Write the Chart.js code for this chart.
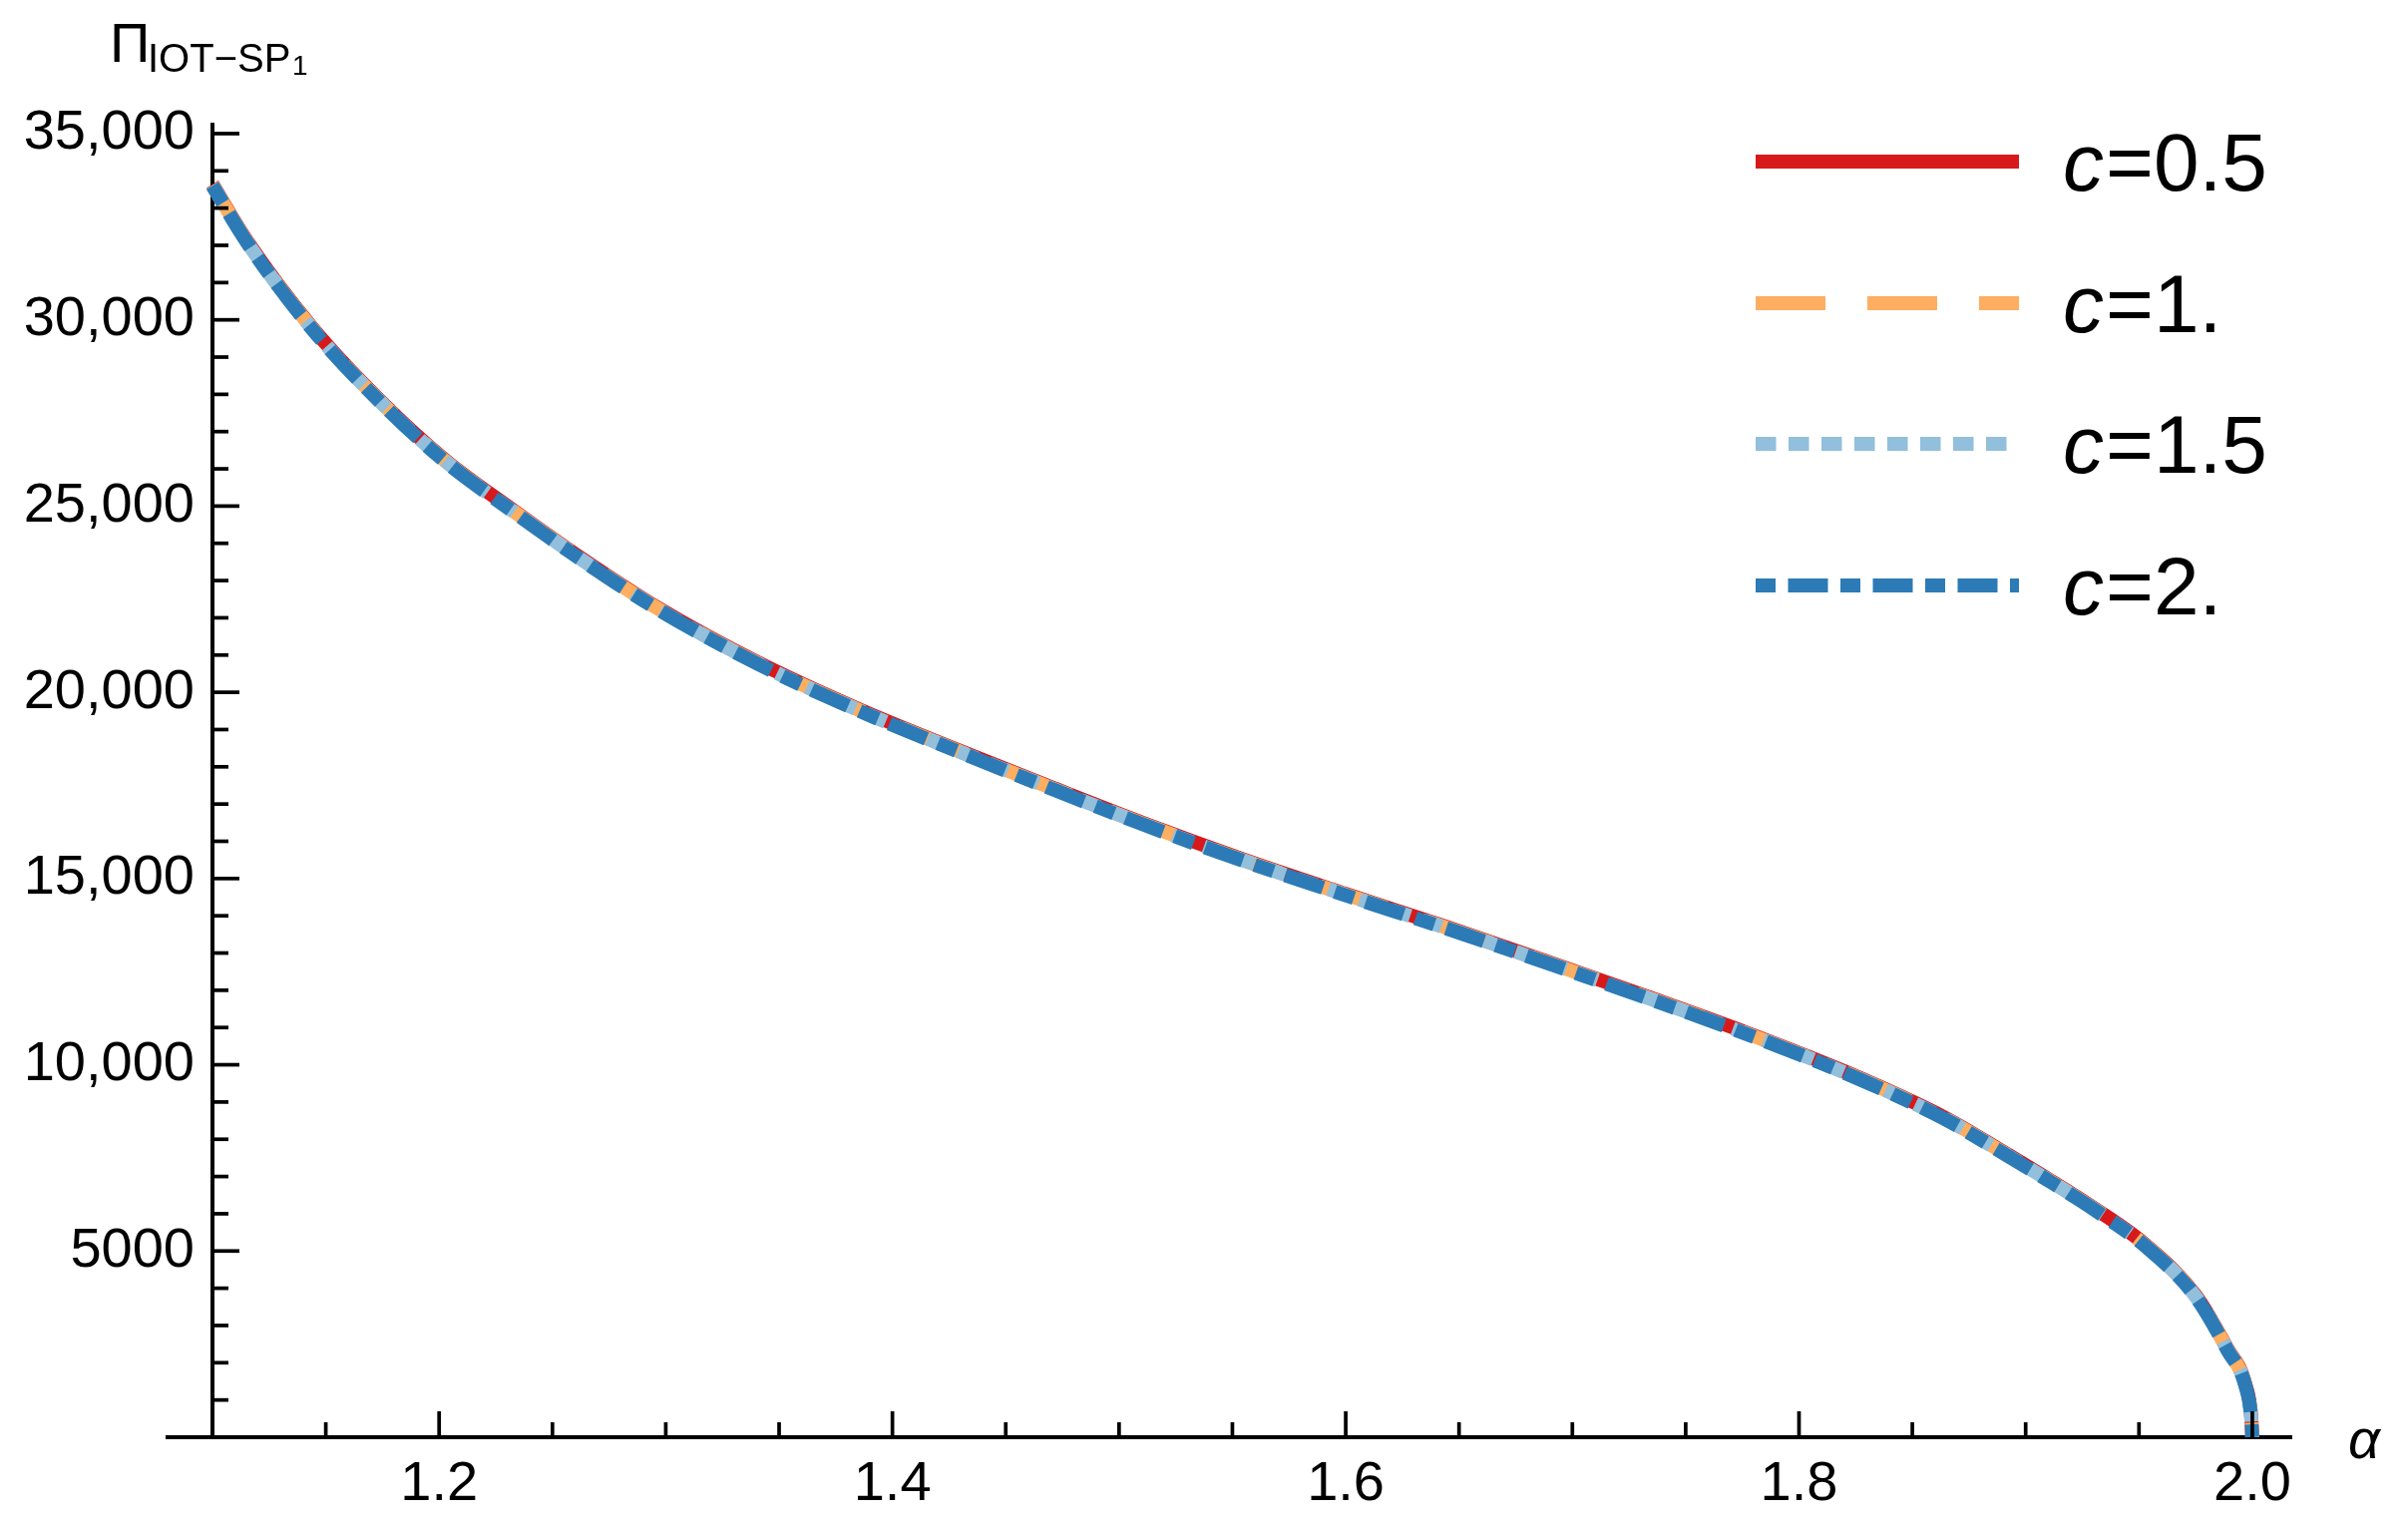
<!DOCTYPE html>
<html><head><meta charset="utf-8">
<script src="https://cdn.jsdelivr.net/npm/chart.js@4.4.0/dist/chart.umd.min.js"></script>
<style>html,body{margin:0;padding:0;background:#fff;} canvas{display:block;}</style>
</head><body>
<canvas id="c" width="2414" height="1528"></canvas>
<script>
// ---- data ----
const alphaValues = [1.100, 1.115, 1.144, 1.174, 1.203, 1.232, 1.262, 1.297, 1.341, 1.385, 1.429, 1.471, 1.512, 1.556, 1.600, 1.645, 1.689, 1.733, 1.777, 1.821, 1.865, 1.887, 1.909, 1.931, 1.953, 1.975, 1.989, 1.997, 1.9995, 2.000];
const piC05 = [33640, 32140, 29790, 27830, 26220, 24920, 23630, 22250, 20790, 19550, 18450, 17430, 16460, 15490, 14590, 13690, 12770, 11830, 10860, 9800, 8560, 7780, 6970, 6120, 5160, 3810, 2380, 1410, 560, 0];
const piC1  = [33620, 32120, 29770, 27810, 26200, 24900, 23610, 22230, 20770, 19530, 18430, 17410, 16440, 15470, 14570, 13670, 12750, 11810, 10840, 9780, 8540, 7760, 6950, 6100, 5140, 3790, 2360, 1390, 540, 0];
const piC15 = [33610, 32110, 29760, 27800, 26190, 24890, 23600, 22220, 20760, 19520, 18420, 17400, 16430, 15460, 14560, 13660, 12740, 11800, 10830, 9770, 8530, 7750, 6940, 6090, 5130, 3780, 2350, 1380, 530, 0];
const piC2  = [33600, 32100, 29750, 27790, 26180, 24880, 23590, 22210, 20750, 19510, 18410, 17390, 16420, 15450, 14550, 13650, 12730, 11790, 10820, 9760, 8520, 7740, 6930, 6080, 5120, 3770, 2340, 1370, 520, 0];
const seriesValues = ['0.5', '1.', '1.5', '2.'];
const xTickValues = [1.2, 1.4, 1.6, 1.8, 2.0];
const xTickLabels = ['1.2', '1.4', '1.6', '1.8', '2.0'];
const yTickValues = [5000, 10000, 15000, 20000, 25000, 30000, 35000];
const yTickLabels = ['5000', '10,000', '15,000', '20,000', '25,000', '30,000', '35,000'];

// ---- styles ----
const colors = ['#D7191C', '#FDAE61', '#92BFDB', '#2C7BB6'];
const dashes = [[], [70, 42], [20.5, 12.5], [20, 12.5, 40, 12.5]];
const FONT = '"Liberation Sans", Arial, sans-serif';
const LW = 14;

const seriesData = [piC05, piC1, piC15, piC2];
const datasets = seriesData.map((arr, k) => ({
  label: 'c=' + seriesValues[k],
  data: alphaValues.map((a, i) => ({x: a, y: arr[i]})),
  showLine: true,
  borderColor: colors[k],
  backgroundColor: colors[k],
  borderWidth: LW,
  borderDash: dashes[k],
  borderCapStyle: 'butt',
  pointRadius: 0,
  pointHoverRadius: 0,
  cubicInterpolationMode: 'monotone',
  order: 4 - k,
  clip: {left: 12, top: 6, right: 6, bottom: 0}
}));

const decor = {
  id: 'decor',
  afterDraw(chart) {
    const ctx = chart.ctx;
    const xs = chart.scales.x, ys = chart.scales.y;
    const x0 = xs.getPixelForValue(1.1);
    const y0 = ys.getPixelForValue(0);
    ctx.save();
    ctx.strokeStyle = '#000';
    ctx.lineCap = 'butt';
    // x axis extension to the left of the vertical axis
    ctx.lineWidth = 4;
    ctx.beginPath();
    ctx.moveTo(xs.getPixelForValue(1.0793), y0);
    ctx.lineTo(x0, y0);
    ctx.stroke();
    // y ticks (inward)
    ctx.lineWidth = 3.7;
    for (let v = 1000; v <= 35000; v += 1000) {
      const major = v % 5000 === 0;
      const y = ys.getPixelForValue(v);
      ctx.beginPath();
      ctx.moveTo(x0, y);
      ctx.lineTo(x0 + (major ? 27 : 16), y);
      ctx.stroke();
    }
    // x ticks (upward)
    for (let i = 3; i <= 20; i++) {
      const v = i * 0.05 + 1.0;
      const major = i % 4 === 0;
      const x = xs.getPixelForValue(v);
      ctx.beginPath();
      ctx.moveTo(x, y0);
      ctx.lineTo(x, y0 - (major ? 26 : 15));
      ctx.stroke();
    }
    // axis labels
    ctx.fillStyle = '#000';
    ctx.textAlign = 'left';
    ctx.textBaseline = 'alphabetic';
    ctx.font = '56px ' + FONT;
    ctx.fillText('\u03A0', 110, 62);
    ctx.font = '40px ' + FONT;
    ctx.fillText('IOT\u2212SP', 148, 72);
    ctx.font = '28px ' + FONT;
    ctx.fillText('1', 293, 75);
    ctx.font = 'italic 56px ' + FONT;
    ctx.fillText('\u03B1', 2354, 1462);
    // legend
    const rowY = [162, 304, 445, 587];
    for (let k = 0; k < 4; k++) {
      ctx.strokeStyle = colors[k];
      ctx.lineWidth = LW;
      ctx.setLineDash(dashes[k]);
      ctx.beginPath();
      ctx.moveTo(1760, rowY[k]);
      ctx.lineTo(2024, rowY[k]);
      ctx.stroke();
      ctx.setLineDash([]);
      ctx.fillStyle = '#000';
      ctx.font = 'italic 82px ' + FONT;
      ctx.fillText('c', 2068, rowY[k] + 29);
      const w = ctx.measureText('c').width;
      ctx.font = '82px ' + FONT;
      ctx.fillText('=' + seriesValues[k], 2068 + w + 2, rowY[k] + 29);
    }
    ctx.restore();
  }
};

new Chart(document.getElementById('c'), {
  type: 'scatter',
  data: {datasets},
  options: {
    responsive: false,
    animation: false,
    devicePixelRatio: 1,
    layout: {padding: {left: 0, right: 117, top: 125, bottom: 0}},
    plugins: {legend: {display: false}, tooltip: {enabled: false}},
    scales: {
      x: {
        type: 'linear', min: 1.1, max: 2.0172, position: 'bottom', z: 1,
        afterFit(s) { s.height = 87; },
        afterBuildTicks(s) { s.ticks = xTickValues.map(v => ({value: v})); },
        ticks: {
          callback(v, i) { return xTickLabels[i]; },
          font: {family: FONT, size: 56}, color: '#000', padding: 14,
          maxRotation: 0, autoSkip: false
        },
        grid: {display: true, drawOnChartArea: false, drawTicks: false, color: 'rgba(0,0,0,0)'},
        border: {display: true, color: '#000', width: 4}
      },
      y: {
        type: 'linear', min: 0, max: 35240, position: 'left', z: 1,
        afterFit(s) { s.width = 213; },
        afterBuildTicks(s) { s.ticks = yTickValues.map(v => ({value: v})); },
        ticks: {
          callback(v, i) { return yTickLabels[i]; },
          font: {family: FONT, size: 56}, color: '#000', padding: 18,
          autoSkip: false
        },
        grid: {display: true, drawOnChartArea: false, drawTicks: false, color: 'rgba(0,0,0,0)'},
        border: {display: true, color: '#000', width: 4}
      }
    }
  },
  plugins: [decor]
});
</script>
</body></html>
